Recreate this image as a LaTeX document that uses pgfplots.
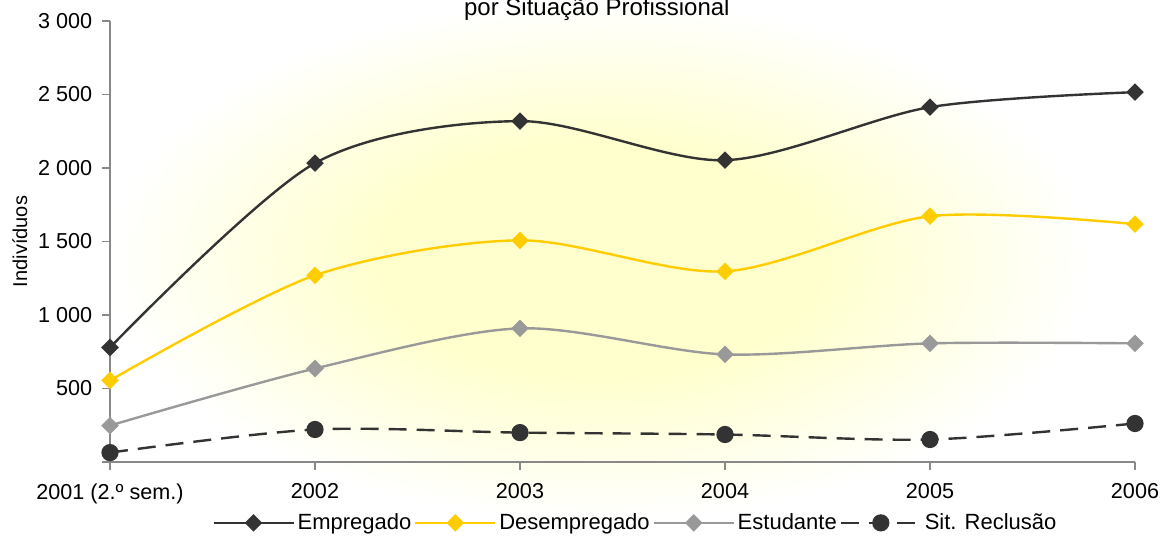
\documentclass[border=0pt]{standalone}
\usepackage{pgfplots}
\pgfplotsset{compat=1.18}
\usepackage{fontspec}
\setmainfont{Liberation Sans}
\definecolor{cEmp}{HTML}{333333}
\definecolor{cDes}{HTML}{FFCC00}
\definecolor{cEst}{HTML}{999999}
\definecolor{cAx}{HTML}{888888}
\definecolor{cCen}{HTML}{FFFFCE}
\pgfdeclareradialshading{bgrad}{\pgfpoint{0bp}{0bp}}{color(0bp)=(cCen); color(10bp)=(cCen); color(22bp)=(white); color(50bp)=(white)}
\begin{document}
\fontsize{11}{13}\selectfont
\begin{tikzpicture}
\useasboundingbox (-55pt,-36.5pt) rectangle (525pt,231pt);
\begin{scope}
\clip (-55pt,-36.5pt) rectangle (525pt,231pt);
\shade[shading=bgrad] (-35pt,-47pt) rectangle (525pt,249pt);
\end{scope}
\begin{axis}[
  at={(0,0)}, anchor=south west,
  scale only axis, width=512.5pt, height=220.5pt,
  xmin=0, xmax=5, ymin=0, ymax=3000,
  axis x line*=bottom, axis y line*=left,
  axis line style={cAx, line width=0.6pt},
  xtick={0,...,5},
  xticklabels={2001 (2.º sem.),2002,2003,2004,2005,2006},
  ytick={0,500,1000,1500,2000,2500,3000},
  yticklabels={,500,1 000,1 500,2 000,2 500,3 000},
  tick style={cAx, line width=0.6pt},
  tick align=outside, major tick length=4pt,
  ticklabel style={font=\fontsize{10.8}{13}\selectfont},
  xticklabel style={yshift=-3pt},
  yticklabel style={xshift=-1pt},
  /pgf/number format/assume math mode=true,
  ylabel={Indivíduos},
  ylabel style={at={(axis description cs:-0.088,0.5)}, anchor=center, font=\fontsize{10}{12}\selectfont},
  legend columns=4,
  legend style={at={(axis description cs:0.513,-0.138)}, anchor=center, draw=none, fill=none,
    font=\fontsize{11}{13}\selectfont,
    /tikz/every even column/.append style={column sep=0pt}, inner sep=0pt,
    nodes={inner xsep=1.4pt, inner ysep=1pt}},
  legend cell align=left,
  legend image code/.code={\draw[#1, mark repeat=2, mark phase=2] plot coordinates {(0pt,0pt) (20pt,0pt) (40pt,0pt)};},
  clip=false,
]
\addplot[cEmp, line width=1.2pt, smooth, tension=0.5, mark=square*, mark size=2.5pt, mark options={rotate=45, solid}]
 coordinates {(0,779) (1,2033) (2,2319) (3,2053) (4,2414) (5,2516)};
\addlegendentry{Empregado}
\addplot[cDes, line width=1.2pt, smooth, tension=0.5, mark=square*, mark size=2.5pt, mark options={rotate=45, solid}]
 coordinates {(0,555) (1,1270) (2,1508) (3,1297) (4,1672) (5,1618)};
\addlegendentry{Desempregado}
\addplot[cEst, line width=1.2pt, smooth, tension=0.5, mark=square*, mark size=2.5pt, mark options={rotate=45, solid}]
 coordinates {(0,248) (1,636) (2,909) (3,732) (4,807) (5,807)};
\addlegendentry{Estudante}
\addplot[cEmp, line width=1.2pt, smooth, tension=0.5, dash pattern=on 9pt off 5pt, mark=*, mark size=3.7pt, mark options={solid}]
 coordinates {(0,64) (1,221) (2,200) (3,187) (4,153) (5,262)};
\addlegendentry{Sit. Reclusão}
\node[anchor=base, font=\fontsize{12}{14}\selectfont] at (axis cs:2.375,0) [yshift=223pt] {por Situação Profissional};
\end{axis}
\end{tikzpicture}
\end{document}
